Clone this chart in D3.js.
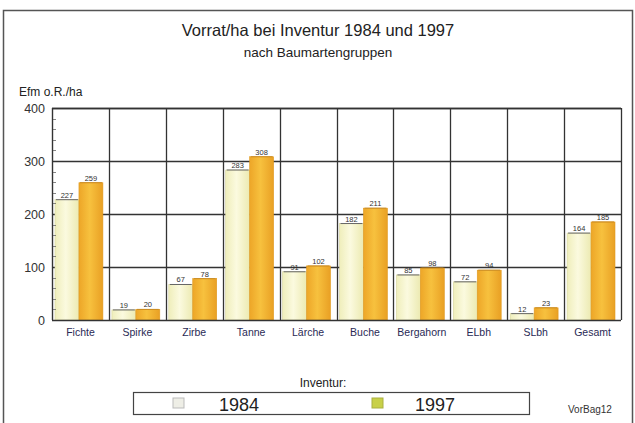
<!DOCTYPE html>
<html>
<head>
<meta charset="utf-8">
<script src="https://cdnjs.cloudflare.com/ajax/libs/d3/7.8.5/d3.min.js"></script>
<style>
  body { margin: 0; background: #fff; }
  svg { display: block; font-family: "Liberation Sans", Arial, sans-serif; }
</style>
</head>
<body>
<div id="chart"></div>
<script>
var categories = ['Fichte', 'Spirke', 'Zirbe', 'Tanne', 'Lärche', 'Buche', 'Bergahorn', 'ELbh', 'SLbh', 'Gesamt'];
var series = ['1984', '1997'];
var values1984 = [227, 19, 67, 283, 91, 182, 85, 72, 12, 164];
var values1997 = [259, 20, 78, 308, 102, 211, 98, 94, 23, 185];
var yTicks = [0, 100, 200, 300, 400];

var width = 635, height = 423;
var margin = {top: 108, left: 52, right: 14, bottom: 103};

var svg = d3.select('#chart').append('svg')
    .attr('width', width)
    .attr('height', height);

// gradients for the bars
var defs = svg.append('defs');
var g84 = defs.append('linearGradient').attr('id', 'g84');
g84.append('stop').attr('offset', '0%').attr('stop-color', '#efeebb');
g84.append('stop').attr('offset', '45%').attr('stop-color', '#fbfadf');
g84.append('stop').attr('offset', '100%').attr('stop-color', '#eceab2');
var g97 = defs.append('linearGradient').attr('id', 'g97');
g97.append('stop').attr('offset', '0%').attr('stop-color', '#eda628');
g97.append('stop').attr('offset', '45%').attr('stop-color', '#f7c13e');
g97.append('stop').attr('offset', '100%').attr('stop-color', '#e9a024');

// outer frame
svg.append('path')
    .attr('d', 'M3.5,' + height + 'L3.5,10.5L632.5,10.5L632.5,' + height)
    .style('fill', 'none').style('stroke', '#555').style('stroke-width', 1.5);

svg.append('text')
    .attr('x', 318).attr('y', 36)
    .attr('text-anchor', 'middle')
    .style('font-size', '16.5px').style('fill', '#222')
    .text('Vorrat/ha bei Inventur 1984 und 1997');
svg.append('text')
    .attr('x', 318).attr('y', 57)
    .attr('text-anchor', 'middle')
    .style('font-size', '13.5px').style('fill', '#222')
    .text('nach Baumartengruppen');
svg.append('text')
    .attr('x', 19).attr('y', 96)
    .style('font-size', '12px').style('fill', '#222')
    .text('Efm o.R./ha');

var chartWidth = width - margin.left - margin.right;
var chartHeight = height - margin.top - margin.bottom;

var panel = svg.append('g')
    .attr('transform', 'translate(' + margin.left + ',' + margin.top + ')');

var scaleX = d3.scaleBand().domain(categories).range([0, chartWidth]).padding(0);
var scaleY = d3.scaleLinear().domain([0, 400]).range([chartHeight, 0]);
var scaleS = d3.scaleBand().domain(series).range([3, scaleX.bandwidth() - 6]).padding(0);

// grid
panel.selectAll('line.hgrid')
    .data(yTicks.filter(function(d){ return d > 0; }))
    .enter().append('line')
    .attr('class', 'hgrid')
    .attr('x1', 0).attr('x2', chartWidth)
    .attr('y1', function(d){ return Math.round(scaleY(d)) + 0.5; })
    .attr('y2', function(d){ return Math.round(scaleY(d)) + 0.5; })
    .style('stroke', '#333').style('stroke-width', 1.3);

panel.selectAll('line.vgrid')
    .data(categories.slice(1).concat(['end']))
    .enter().append('line')
    .attr('class', 'vgrid')
    .attr('x1', function(d, i){ return Math.round(scaleX.bandwidth() * (i + 1)) + 0.5; })
    .attr('x2', function(d, i){ return Math.round(scaleX.bandwidth() * (i + 1)) + 0.5; })
    .attr('y1', 0).attr('y2', chartHeight)
    .style('stroke', '#333').style('stroke-width', 1.3);

// bars
var rows = categories.map(function(c, i){
    return [{cat: c, s: '1984', v: values1984[i]}, {cat: c, s: '1997', v: values1997[i]}];
});
var groups = panel.selectAll('g.cat')
    .data(rows)
    .enter().append('g')
    .attr('class', 'cat')
    .attr('transform', function(d){ return 'translate(' + scaleX(d[0].cat) + ',0)'; });

groups.selectAll('rect')
    .data(function(d){ return d; })
    .enter().append('rect')
    .attr('x', function(d){ return scaleS(d.s); })
    .attr('y', function(d){ return scaleY(d.v); })
    .attr('width', scaleS.bandwidth())
    .attr('height', function(d){ return chartHeight - scaleY(d.v); })
    .style('fill', function(d){ return d.s === '1984' ? 'url(#g84)' : 'url(#g97)'; })
    .style('stroke', function(d){ return d.s === '1984' ? '#d8d6a0' : '#e09a20'; })
    .style('stroke-width', 0.6);

groups.selectAll('line.top')
    .data(function(d){ return d; })
    .enter().append('line')
    .attr('class', 'top')
    .attr('x1', function(d){ return scaleS(d.s) + 1; })
    .attr('x2', function(d){ return scaleS(d.s) + scaleS.bandwidth() - 1; })
    .attr('y1', function(d){ return scaleY(d.v); })
    .attr('y2', function(d){ return scaleY(d.v); })
    .style('stroke', function(d){ return d.s === '1984' ? '#666' : '#c98a20'; })
    .style('stroke-width', 1);

groups.selectAll('text.val')
    .data(function(d){ return d; })
    .enter().append('text')
    .attr('class', 'val')
    .attr('x', function(d){ return scaleS(d.s) + scaleS.bandwidth() / 2; })
    .attr('y', function(d){ return scaleY(d.v) - 2; })
    .attr('text-anchor', 'middle')
    .style('font-size', '7.5px').style('fill', '#333')
    .text(function(d){ return d.v; });

// axes
panel.append('line')
    .attr('x1', 0.5).attr('x2', 0.5).attr('y1', 0).attr('y2', chartHeight)
    .style('stroke', '#333').style('stroke-width', 1.4);
panel.append('line')
    .attr('x1', 0).attr('x2', chartWidth).attr('y1', chartHeight + 0.5).attr('y2', chartHeight + 0.5)
    .style('stroke', '#333').style('stroke-width', 1.4);
panel.append('line')
    .attr('x1', 0).attr('x2', chartWidth).attr('y1', 0.5).attr('y2', 0.5)
    .style('stroke', '#333').style('stroke-width', 1.3);

panel.selectAll('line.minor')
    .data(d3.range(20, 400, 20).filter(function(d){ return d % 100 !== 0; }))
    .enter().append('line')
    .attr('class', 'minor')
    .attr('x1', 1).attr('x2', 4)
    .attr('y1', function(d){ return Math.round(scaleY(d)) + 0.5; })
    .attr('y2', function(d){ return Math.round(scaleY(d)) + 0.5; })
    .style('stroke', '#666').style('stroke-width', 0.8);

panel.selectAll('text.ytick')
    .data(yTicks)
    .enter().append('text')
    .attr('class', 'ytick')
    .attr('x', -7)
    .attr('y', function(d){ return scaleY(d) + 4.5; })
    .attr('text-anchor', 'end')
    .style('font-size', '12.5px').style('fill', '#333')
    .text(function(d){ return d; });

panel.selectAll('text.xtick')
    .data(categories)
    .enter().append('text')
    .attr('class', 'xtick')
    .attr('x', function(d){ return scaleX(d) + scaleX.bandwidth() / 2; })
    .attr('y', chartHeight + 16)
    .attr('text-anchor', 'middle')
    .style('font-size', '10.5px').style('fill', '#2a2a55')
    .text(function(d){ return d; });

// legend
svg.append('text')
    .attr('x', 323).attr('y', 387)
    .attr('text-anchor', 'middle')
    .style('font-size', '12px').style('fill', '#222')
    .text('Inventur:');
svg.append('rect')
    .attr('x', 133.5).attr('y', 392.5).attr('width', 396).attr('height', 22)
    .style('fill', '#fff').style('stroke', '#444').style('stroke-width', 1.2);

var legendItems = [
    {s: '1984', sx: 173, tx: 219, fill: '#eeeee6', stroke: '#bbb'},
    {s: '1997', sx: 372, tx: 415, fill: '#c8d048', stroke: '#aab040'}
];
var legend = svg.selectAll('g.legend')
    .data(legendItems)
    .enter().append('g')
    .attr('class', 'legend');
legend.append('rect')
    .attr('x', function(d){ return d.sx; }).attr('y', 398)
    .attr('width', 11).attr('height', 10)
    .style('fill', function(d){ return d.fill; })
    .style('stroke', function(d){ return d.stroke; });
legend.append('text')
    .attr('x', function(d){ return d.tx; }).attr('y', 411)
    .style('font-size', '18px').style('fill', '#222')
    .text(function(d){ return d.s; });

svg.append('text')
    .attr('x', 568).attr('y', 413)
    .style('font-size', '10px').style('fill', '#333')
    .text('VorBag12');
</script>
</body>
</html>
